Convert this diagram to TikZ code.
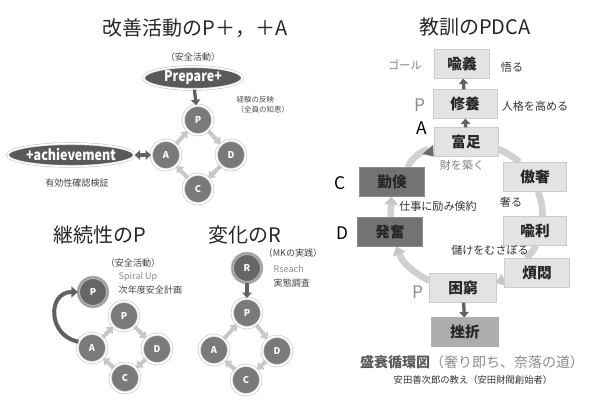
\documentclass[tikz,border=0pt]{standalone}
\usepackage{fontspec}
\setmainfont{Noto Sans CJK JP}
\usetikzlibrary{shapes.geometric,arrows.meta,backgrounds}

\begin{document}
\begin{tikzpicture}[x=0.75pt, y=-0.75pt,
  title/.style={font=\fontsize{15}{18}\selectfont, text=black!85},
  note/.style={font=\fontsize{6.8}{8}\selectfont, text=black!75},
  smallnote/.style={font=\fontsize{5.6}{7.5}\selectfont, text=black!70},
  stage/.style={circle, fill=black!52, draw=black!22, double=white, double distance=1.4pt, line width=0.5pt, minimum size=22pt, inner sep=0pt, text=white, font=\fontsize{7}{8}\selectfont\bfseries},
  bigstage/.style={stage, fill=black!60, draw=black!22, double=black!38},
  capsule/.style={ellipse, fill=black!65, draw=black!25, double=white, double distance=1.2pt, line width=0.4pt, minimum height=17pt, inner sep=0pt, text=white, font=\fontsize{11}{12}\selectfont\bfseries},
  cyc/.style={draw=black!22, line width=3pt, -{Triangle[width=7pt,length=4.5pt]}},
  push/.style={draw=black!62, line width=2.5pt, -{Triangle[width=7pt,length=4pt]}},
  lesson/.style={rectangle, fill=black!11, draw=black!20, minimum height=21.5pt, inner sep=0pt, font=\fontsize{11}{12}\selectfont\bfseries, text=black!85},
  darklesson/.style={lesson, fill=black!55, draw=black!45},
  tag/.style={font=\fontsize{13}{14}\selectfont},
  remark/.style={font=\fontsize{8.3}{10}\selectfont, text=black!80},
  ring/.style={draw=black!18, line width=5pt},
  ringtip/.style={ring, -{Triangle[width=10pt,length=6pt,color=black!22]}}
]
\useasboundingbox (0,0) rectangle (594,406);

%%%%%%%%%%%%%%%%%%%%%%%%%%%%%%%%%%%%%%%%%%%%%%%%%%%%%%%%%%%%%%%%
% P+, +A
%%%%%%%%%%%%%%%%%%%%%%%%%%%%%%%%%%%%%%%%%%%%%%%%%%%%%%%%%%%%%%%%

\node[title] (t_kaizen) at (195,28) {改善活動のP＋，＋A};
\node[note] (k_anzen) at (193,57) {（安全活動）};
\node[capsule, minimum width=74pt] (k_prep) at (193,78) {\scalebox{0.85}[1]{Prepare+}};
\node[smallnote, align=left, anchor=west] (k_keiken) at (232,105) {経験の反映\\（全員の知恵）};

% Cycle
\node[stage] (k_p) at (198,120) {P};
\node[stage] (k_a) at (166,155) {A};
\node[stage] (k_d) at (231,155) {D};
\node[stage] (k_c) at (198,189) {C};

\node[capsule, minimum width=85pt] (k_ach) at (71,155) {\scalebox{0.85}[1]{+achievement}};
\node[note] (k_yuko) at (77,183) {有効性確認検証};

% Edges
\draw[push] (k_prep) -- (k_p);
\draw[push, {Triangle[width=7pt,length=4pt]}-{Triangle[width=7pt,length=4pt]}] (k_ach) -- (k_a);
\draw[cyc] (k_a) -- (k_p);
\draw[cyc] (k_p) -- (k_d);
\draw[cyc] (k_d) -- (k_c);
\draw[cyc] (k_c) -- (k_a);

%%%%%%%%%%%%%%%%%%%%%%%%%%%%%%%%%%%%%%%%%%%%%%%%%%%%%%%%%%%%%%%%
% Spiral up
%%%%%%%%%%%%%%%%%%%%%%%%%%%%%%%%%%%%%%%%%%%%%%%%%%%%%%%%%%%%%%%%

\node[title] (t_keizoku) at (100,235) {継続性のP};
\node[note] (s_anzen) at (133,263) {（安全活動）};
\node[bigstage] (s_big) at (93,292) {P};
\node[note, anchor=west, text=black!45] (s_spiral) at (114,277) {Spiral Up};
\node[note, anchor=west] (s_keikaku) at (114,290) {次年度安全計画};

% Cycle
\node[stage] (s_p) at (124,316) {P};
\node[stage] (s_a) at (92,348) {A};
\node[stage] (s_d) at (157,349) {D};
\node[stage] (s_c) at (125,378) {C};

% Edges
\draw[push, line width=3pt, -{Triangle[width=8pt,length=5pt]}] (s_a.155) to[out=170,in=180,looseness=1.6] (s_big);
\draw[cyc] (s_a) -- (s_p);
\draw[cyc] (s_p) -- (s_d);
\draw[cyc] (s_d) -- (s_c);
\draw[cyc] (s_c) -- (s_a);

%%%%%%%%%%%%%%%%%%%%%%%%%%%%%%%%%%%%%%%%%%%%%%%%%%%%%%%%%%%%%%%%
% Research
%%%%%%%%%%%%%%%%%%%%%%%%%%%%%%%%%%%%%%%%%%%%%%%%%%%%%%%%%%%%%%%%

\node[title] (t_henka) at (245,235) {変化のR};
\node[note] (r_mk) at (293,253) {（MKの実践）};
\node[bigstage] (r_big) at (247,268) {R};
\node[note, anchor=west, text=black!45] (r_seach) at (269,269) {Rseach};
\node[note, anchor=west] (r_chosa) at (269,283) {実態調査};

% Cycle
\node[stage] (r_p) at (247,313) {P};
\node[stage] (r_a) at (214,350) {A};
\node[stage] (r_d) at (277,351) {D};
\node[stage] (r_c) at (246,380) {C};

% Edges
\draw[push] (r_big) -- (r_p);
\draw[cyc] (r_a) -- (r_p);
\draw[cyc] (r_p) -- (r_d);
\draw[cyc] (r_d) -- (r_c);
\draw[cyc] (r_c) -- (r_a);

%%%%%%%%%%%%%%%%%%%%%%%%%%%%%%%%%%%%%%%%%%%%%%%%%%%%%%%%%%%%%%%%
% PDCA of the lesson
%%%%%%%%%%%%%%%%%%%%%%%%%%%%%%%%%%%%%%%%%%%%%%%%%%%%%%%%%%%%%%%%

\node[title] (t_kyokun) at (475,27) {教訓のPDCA};

% Boxes
\node[lesson, minimum width=41pt] (l_yugi) at (462,64) {喩義};
\node[lesson, minimum width=48pt] (l_shuyo) at (465,104) {修養};
\node[lesson, minimum width=48pt] (l_fusoku) at (466,142) {富足};
\node[lesson, minimum width=47pt] (l_gosha) at (535,177) {傲奢};
\node[darklesson, minimum width=49pt] (l_kinken) at (392,182) {勤倹};
\node[darklesson, minimum width=49pt] (l_happun) at (390,232) {発奮};
\node[lesson, minimum width=47pt] (l_yuri) at (535,231) {喩利};
\node[lesson, minimum width=49pt] (l_hanmon) at (537,273) {煩悶};
\node[lesson, minimum width=50pt] (l_konkyu) at (463,288) {困窮};
\node[lesson, minimum width=50pt, fill=black!32, draw=black!30] (l_zasetsu) at (465,332) {挫折};

% Labels
\node[remark, text=black!50] (n_goal) at (405,65) {ゴール};
\node[remark] (n_satoru) at (512,67) {悟る};
\node[tag, text=black!45] (n_p1) at (420,105) {P};
\node[remark] (n_jinkaku) at (535,106) {人格を高める};
\node[tag] (n_a) at (422,128) {A};
\node[remark, text=black!50] (n_zai) at (462,165) {財を築く};
\node[tag] (n_c) at (340,183) {C};
\node[remark] (n_ogoru) at (511,202) {奢る};
\node[remark] (n_shigoto) at (438,206) {仕事に励み倹約};
\node[tag] (n_d) at (342,233) {D};
\node[remark] (n_moke) at (490,250) {儲けをむさぼる};
\node[tag, text=black!45] (n_p2) at (418,292) {P};
\node[font=\fontsize{10.5}{12}\selectfont, text=black!65] (n_seisui) at (472,362) {\textbf{盛衰循環図}\textcolor{black!45}{（奢り即ち、奈落の道）}};
\node[font=\fontsize{7}{8}\selectfont, text=black!80] (n_yasuda) at (473,380) {安田善次郎の教え（安田財閥創始者）};

% Edges
\draw[push] (l_shuyo) -- (l_yugi);
\draw[push] (l_fusoku) -- (l_shuyo);
\draw[push] (l_konkyu) -- (l_zasetsu);

% Ring
\begin{scope}[on background layer]
\draw[ringtip] (l_konkyu.168) to[out=152,in=-68] (l_happun.-67);
\draw[ringtip] (l_happun) -- (l_kinken);
\draw[ring, -{Triangle[width=10pt,length=7pt,color=black!58]}] (l_kinken.43) to[out=70,in=130] (l_fusoku.south west);
\draw[ring] (l_fusoku.-12) to[out=-28,in=135] (l_gosha.137);
\draw[ring] (l_gosha.-78) to[out=-71,in=89] (l_yuri.63);
\draw[ring] (l_yuri.-86) to[out=-113,in=55] (l_hanmon.126);
\draw[ringtip] (l_hanmon.189) to[out=-148,in=25] (l_konkyu.8);
\end{scope}

\end{tikzpicture}
\end{document}
